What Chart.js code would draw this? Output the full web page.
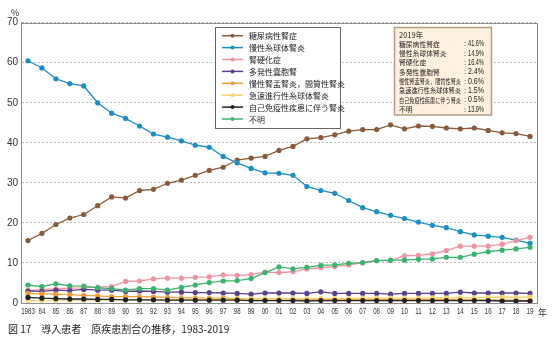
<!DOCTYPE html>
<html><head><meta charset="utf-8">
<script src="https://cdn.jsdelivr.net/npm/chart.js@4.4.1/dist/chart.umd.min.js"></script>
<style>html,body{margin:0;padding:0;background:#fff}#wrap{width:553px;height:341px;position:relative}</style>
</head><body><div id="wrap"><canvas id="c" width="553" height="341"></canvas></div>
<script>
const years = ['1983','84','85','86','87','88','89','90','91','92','93','94','95','96','97','98','99','00','01','02','03','04','05','06','07','08','09','10','11','12','13','14','15','16','17','18','19'];
const yTicks = [0,10,20,30,40,50,60,70];
const seriesNames = ['糖尿病性腎症','慢性糸球体腎炎','腎硬化症','多発性嚢胞腎','慢性腎盂腎炎，間質性腎炎','急速進行性糸球体腎炎','自己免疫性疾患に伴う腎炎','不明'];
const diabetic = [15.6,17.4,19.6,21.2,22.1,24.3,26.5,26.2,28.1,28.4,29.9,30.7,31.9,33.1,33.9,35.7,36.2,36.6,38.1,39.1,41.0,41.3,42.0,42.9,43.3,43.3,44.5,43.5,44.2,44.1,43.7,43.5,43.7,43.1,42.5,42.3,41.6];
const chronicGN = [60.5,58.7,56.0,54.8,54.2,50.0,47.4,46.1,44.2,42.2,41.4,40.5,39.4,38.9,36.6,35.0,33.6,32.5,32.4,31.9,29.1,28.1,27.4,25.6,23.8,22.8,21.9,21.1,20.2,19.4,18.8,17.8,17.0,16.7,16.4,15.7,14.9];
const sclerosis = [3.1,3.4,3.5,3.7,3.8,4.0,4.1,5.4,5.5,6.0,6.2,6.2,6.4,6.5,7.0,6.9,7.1,7.7,7.6,7.8,8.5,8.8,9.1,9.5,10.0,10.6,10.6,11.8,11.9,12.3,13.1,14.2,14.2,14.2,14.7,15.6,16.4];
const polycystic = [3.0,2.9,3.2,3.1,3.4,3.2,3.2,2.9,3.0,2.9,2.7,2.7,2.6,2.6,2.5,2.4,2.2,2.5,2.5,2.5,2.4,2.8,2.4,2.4,2.4,2.4,2.2,2.4,2.4,2.4,2.4,2.7,2.5,2.5,2.5,2.5,2.4];
const pyelo = [2.4,2.3,2.2,2.1,1.9,1.8,1.6,1.6,1.6,1.5,1.4,1.3,1.3,1.2,1.2,1.1,1.1,1.0,1.0,1.0,0.9,0.9,0.9,0.9,0.9,0.9,0.9,0.9,0.9,0.9,0.9,0.8,0.8,0.8,0.7,0.7,0.6];
const rpgn = [0.6,0.6,0.7,0.7,0.7,0.7,0.8,0.8,0.8,0.8,0.8,0.9,0.9,0.9,0.9,1.0,1.0,1.0,1.0,1.1,1.1,1.1,1.1,1.1,1.2,1.2,1.2,1.2,1.2,1.3,1.3,1.3,1.3,1.4,1.5,1.4,1.5];
const autoimmune = [1.4,1.2,1.1,1.0,1.0,0.9,0.9,0.8,0.8,0.8,0.7,0.7,0.7,0.7,0.7,0.7,0.6,0.6,0.6,0.6,0.5,0.6,0.6,0.6,0.6,0.6,0.6,0.6,0.6,0.6,0.6,0.6,0.6,0.6,0.5,0.5,0.5];
const unknown = [4.5,4.1,4.8,4.3,4.2,3.8,3.6,3.2,3.6,3.6,3.2,3.9,4.5,5.1,5.5,5.6,6.1,7.6,9.0,8.5,8.9,9.4,9.5,9.9,10.1,10.6,10.7,10.7,10.9,11.0,11.4,11.4,12.2,12.8,13.2,13.5,13.9];

const colors = ['#8a5a3a','#1b8fc4','#ef93a4','#5b3f8e','#f29b3a','#f9d36e','#222222','#3bb36c'];
const seriesData = [diabetic, chronicGN, sclerosis, polycystic, pyelo, rpgn, autoimmune, unknown];
const JP = "'Noto Sans CJK JP', sans-serif";

const datasets = seriesData.map((d,i)=>({
  label: seriesNames[i], data: d, borderColor: colors[i], backgroundColor: colors[i],
  borderWidth: 1.3, pointRadius: 2.6, pointHoverRadius: 2.6, pointBorderWidth: 0, tension: 0,
  order: 8-i
}));

function narrowText(ctx, text, x, y, sx){
  ctx.save(); ctx.translate(x, y); ctx.scale(sx, 1); ctx.fillText(text, 0, 0); ctx.restore();
}

const overlay = {
  id: 'overlay',
  afterDraw(chart){
    const ctx = chart.ctx, a = chart.chartArea, xs = chart.scales.x;
    ctx.save();
    ctx.strokeStyle = '#8c8c8c'; ctx.lineWidth = 1;
    ctx.strokeRect(Math.round(a.left)+0.5, Math.round(a.top)+0.5, Math.round(a.right-a.left), Math.round(a.bottom-a.top));
    ctx.fillStyle = '#333'; ctx.textBaseline = 'middle'; ctx.textAlign = 'center';
    ctx.font = "8.5px 'Liberation Sans', sans-serif";
    chart.data.labels.forEach((lab,i)=>{ narrowText(ctx, lab, xs.getPixelForTick(i), a.bottom + 9, 0.72); });
    ctx.textAlign='left';
    ctx.font = "9px " + JP;
    ctx.fillText('%', 11, 12.5);
    ctx.fillText('年', 538, 313);
    ctx.font = "10px " + JP; ctx.fillStyle = '#222';
    ctx.fillText('図 17　導入患者　原疾患割合の推移，1983-2019', 8, 329);
    // legend box
    ctx.fillStyle = '#fff'; ctx.fillRect(215.5, 27.5, 125, 101);
    ctx.strokeStyle = '#666'; ctx.lineWidth = 1; ctx.strokeRect(215.5, 27.5, 125, 101);
    ctx.font = "8px " + JP;
    chart.data.datasets.forEach((ds,i)=>{
      const y = 35.7 + i*11.9;
      ctx.strokeStyle = ds.borderColor; ctx.lineWidth = 1.5;
      ctx.beginPath(); ctx.moveTo(222, y); ctx.lineTo(243, y); ctx.stroke();
      ctx.fillStyle = ds.borderColor; ctx.beginPath(); ctx.arc(232.5, y, 2, 0, Math.PI*2); ctx.fill();
      ctx.fillStyle = '#222'; ctx.textAlign='left'; ctx.fillText(ds.label, 249, y+0.5);
    });
    // annotation box
    ctx.fillStyle = '#fdf0df'; ctx.fillRect(394.5, 27.5, 97, 87.5);
    ctx.strokeStyle = '#b49d80'; ctx.strokeRect(394.5, 27.5, 97, 87.5);
    ctx.fillStyle = '#222'; ctx.font = "7.5px " + JP; ctx.textAlign='left';
    ctx.fillText('2019年', 399, 35);
    chart.data.datasets.forEach((ds,i)=>{
      const y = 44.2 + i*9.3;
      ctx.font = "6.8px " + JP;
      ctx.textAlign='left'; ctx.fillText(ds.label, 399, y, 62);
      ctx.font = "8px 'Liberation Sans', sans-serif";
      ctx.fillText(':', 464, y);
      ctx.textAlign='right';
      ctx.font = "8.2px 'Liberation Sans', sans-serif";
      ctx.fillText(ds.data[ds.data.length-1].toFixed(1) + '%', 484, y, 16);
    });
    ctx.restore();
  }
};

new Chart(document.getElementById('c'), {
  type: 'line',
  data: { labels: years, datasets },
  options: {
    responsive: false, animation: false, devicePixelRatio: 1,
    layout: { padding: { left: 0, top: 22.7, right: 16, bottom: 0 } },
    plugins: { legend: { display: false }, tooltip: { enabled: false } },
    scales: {
      x: {
        offset: true,
        grid: { display: false, drawTicks: false },
        border: { display: true, color: '#8c8c8c' },
        ticks: { display: false, autoSkip: false },
        afterFit(s){ s.height = 38; }
      },
      y: {
        min: 0, max: 70,
        afterBuildTicks(s){ s.ticks = yTicks.map(v=>({value:v})); },
        grid: { color: '#a8a8a8', lineWidth: 0.8, drawTicks: false },
        border: { display: true, color: '#8c8c8c', dash: [2,2] },
        ticks: { color: '#333', font: { size: 10, family: "'Liberation Sans', sans-serif" }, padding: 3 },
        afterFit(s){ s.width = 21; }
      }
    }
  },
  plugins: [overlay]
});
</script></body></html>
